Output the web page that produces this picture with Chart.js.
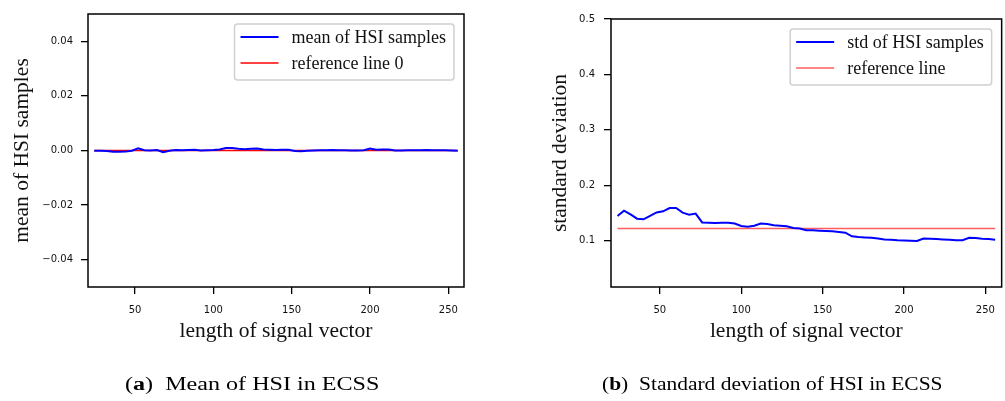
<!DOCTYPE html>
<html>
<head>
<meta charset="utf-8">
<script src="https://cdn.jsdelivr.net/npm/chart.js@4.4.1/dist/chart.umd.min.js"></script>
<style>
  body { margin: 0; background: #fff; width: 1005px; height: 401px; overflow: hidden; position: relative; }
  canvas { position: absolute; top: 0; }
  #meanChart { left: 0; }
  #stdChart { left: 500px; }
  .caption { position: absolute; top: 374px; font-family: "Liberation Serif", serif; font-size: 18.5px; color: #000; white-space: nowrap; transform-origin: 0 0; }
</style>
</head>
<body>
<canvas id="meanChart" width="500" height="401"></canvas>
<canvas id="stdChart" width="505" height="401"></canvas>
<div class="caption" id="capA" data-l="125" data-r="379">(<b>a</b>)&nbsp; Mean of HSI in ECSS</div>
<div class="caption" id="capB" data-l="602" data-r="942">(<b>b</b>)&nbsp; Standard deviation of HSI in ECSS</div>
<script>
/* HSI statistics vs. signal length */
const $ = id => document.getElementById(id);

const lengths = [24, 28, 32, 36, 40, 44, 48, 52, 56, 60, 64, 68, 72, 76, 80, 84, 88, 92, 96, 100,
  104, 108, 112, 116, 120, 124, 128, 132, 136, 140, 144, 148, 152, 156, 160, 164, 168, 172, 176, 180,
  184, 188, 192, 196, 200, 204, 208, 212, 216, 220, 224, 228, 232, 236, 240, 244, 248, 252, 256];

const meanValues = [-0.0001, -0.0001, -0.0002, -0.0005, -0.0005, -0.0004, -0.0001, 0.0008, 0.0001, 0.0000,
  0.0002, -0.0006, -0.0001, 0.0002, 0.0001, 0.0002, 0.0003, 0.0000, 0.0001, 0.0002,
  0.0004, 0.0009, 0.0009, 0.0006, 0.0005, 0.0006, 0.0007, 0.0004, 0.0003, 0.0002,
  0.0003, 0.0003, -0.0002, -0.0003, -0.0001, 0.0000, 0.0001, 0.0001, 0.0002, 0.0001,
  0.0001, 0.0000, 0.0000, 0.0001, 0.0007, 0.0003, 0.0004, 0.0004, 0.0000, 0.0000,
  0.0001, 0.0001, 0.0001, 0.0002, 0.0001, 0.0001, 0.0001, 0.0000, -0.0001];

const stdValues = [0.1446, 0.1542, 0.1476, 0.1398, 0.1386, 0.145, 0.151, 0.153, 0.159, 0.159,
  0.1506, 0.147, 0.149, 0.133, 0.1325, 0.132, 0.1325, 0.1325, 0.131, 0.1265,
  0.125, 0.127, 0.131, 0.130, 0.128, 0.127, 0.126, 0.123, 0.122, 0.119,
  0.1187, 0.118, 0.1175, 0.117, 0.1157, 0.1145, 0.108, 0.1066, 0.106, 0.1054,
  0.104, 0.102, 0.1018, 0.101, 0.1006, 0.100, 0.0994, 0.104, 0.1036, 0.103,
  0.1024, 0.1018, 0.101, 0.101, 0.1054, 0.1048, 0.1036, 0.103, 0.1018];

const meanRef = 0;
const stdRef = 0.1219;

const xTicks = [50, 100, 150, 200, 250];
const meanTicks = [-0.04, -0.02, 0.00, 0.02, 0.04];
const stdTicks = [0.1, 0.2, 0.3, 0.4, 0.5];

const tickFont = { family: 'DejaVu Sans', size: 10 };
const titleFont = { family: 'Liberation Serif', size: 21.5 };
const legendFont = '18px "Liberation Serif"';

// matplotlib-style frame + legend box inside the axes
const framePlugin = {
  id: 'frame',
  afterDraw(chart) {
    const { ctx, chartArea: a } = chart;
    ctx.save();
    ctx.strokeStyle = '#000';
    ctx.lineWidth = 1.5;
    ctx.strokeRect(a.left, a.top, a.right - a.left, a.bottom - a.top);

    const sets = chart.data.datasets;
    ctx.font = legendFont;
    const textW = Math.max(...sets.map(d => ctx.measureText(d.label).width));
    const w = 6 + 38 + 13 + textW + 8;
    const h = 56;
    const x0 = a.right - 10 - w;
    const y0 = a.top + 10;
    ctx.beginPath();
    ctx.roundRect(x0, y0, w, h, 3);
    ctx.fillStyle = 'rgba(255,255,255,0.85)';
    ctx.fill();
    ctx.strokeStyle = '#d0d0d0';
    ctx.lineWidth = 1.5;
    ctx.stroke();
    sets.forEach((d, i) => {
      const y = y0 + 13 + i * 26;
      ctx.beginPath();
      ctx.moveTo(x0 + 6, y);
      ctx.lineTo(x0 + 44, y);
      ctx.strokeStyle = d.borderColor;
      ctx.lineWidth = d.borderWidth;
      ctx.stroke();
      ctx.fillStyle = '#111';
      ctx.textBaseline = 'middle';
      ctx.fillText(d.label, x0 + 57, y + 1);
    });
    ctx.restore();
  }
};

function makeChart(id, cfg) {
  const pts = cfg.values.map((v, i) => ({ x: lengths[i], y: v }));
  const ref = [{ x: lengths[0], y: cfg.ref }, { x: lengths[lengths.length - 1], y: cfg.ref }];
  return new Chart($(id).getContext('2d'), {
    type: 'line',
    data: {
      datasets: [
        { label: cfg.label, data: pts, borderColor: '#0000ff', borderWidth: 2, pointRadius: 0, tension: 0 },
        { label: cfg.refLabel, data: ref, borderColor: cfg.refColor, borderWidth: 1.5, pointRadius: 0 }
      ]
    },
    options: {
      responsive: false,
      animation: false,
      events: [],
      layout: { padding: cfg.padding },
      plugins: { legend: { display: false }, tooltip: { enabled: false } },
      scales: {
        x: {
          type: 'linear', min: 20, max: 260,
          afterFit: s => { s.height = 60; },
          afterBuildTicks: s => { s.ticks = xTicks.map(v => ({ value: v })); },
          grid: { drawOnChartArea: false, tickLength: 7, color: '#000', lineWidth: 1.3 },
          border: { display: false },
          ticks: { font: tickFont, color: '#111', padding: 10, maxRotation: 0 },
          title: { display: true, text: 'length of signal vector', font: titleFont, color: '#111', padding: { top: 0, bottom: 2.4 } }
        },
        y: {
          min: cfg.yMin, max: cfg.yMax,
          afterFit: s => { s.width = cfg.yWidth; },
          afterBuildTicks: s => { s.ticks = cfg.yTicks.map(v => ({ value: v })); },
          grid: { drawOnChartArea: false, tickLength: 7, color: '#000', lineWidth: 1.3 },
          border: { display: false },
          ticks: { font: tickFont, color: '#111', padding: cfg.tickPad, callback: v => cfg.fmt(v).replace('-', '\u2212') },
          title: { display: true, text: cfg.yTitle, font: titleFont, color: '#111', padding: { top: cfg.titlePad, bottom: 0 } }
        }
      }
    },
    plugins: [framePlugin]
  });
}

makeChart('meanChart', {
  values: meanValues, ref: meanRef,
  label: 'mean of HSI samples', refLabel: 'reference line 0', refColor: '#ff0000',
  yMin: -0.05, yMax: 0.05, yTicks: meanTicks, fmt: v => v.toFixed(2),
  yTitle: 'mean of HSI samples', yWidth: 88, tickPad: 8, titlePad: 9.4,
  padding: { left: 0, top: 14, right: 36, bottom: 54 }
});

makeChart('stdChart', {
  values: stdValues, ref: stdRef,
  label: 'std of HSI samples', refLabel: 'reference line', refColor: 'rgba(255,40,40,0.75)',
  yMin: 0.0165, yMax: 0.5, yTicks: stdTicks, fmt: v => v.toFixed(1),
  yTitle: 'standard deviation', yWidth: 111, tickPad: 9, titlePad: 47,
  padding: { left: 0, top: 19, right: 2, bottom: 54 }
});

// stretch the sub-captions to the span they take in the page layout
['capA', 'capB'].forEach(id => {
  const el = $(id);
  const l = +el.dataset.l, r = +el.dataset.r;
  el.style.left = l + 'px';
  el.style.transform = `scaleX(${(r - l) / el.offsetWidth})`;
});
</script>
</body>
</html>
